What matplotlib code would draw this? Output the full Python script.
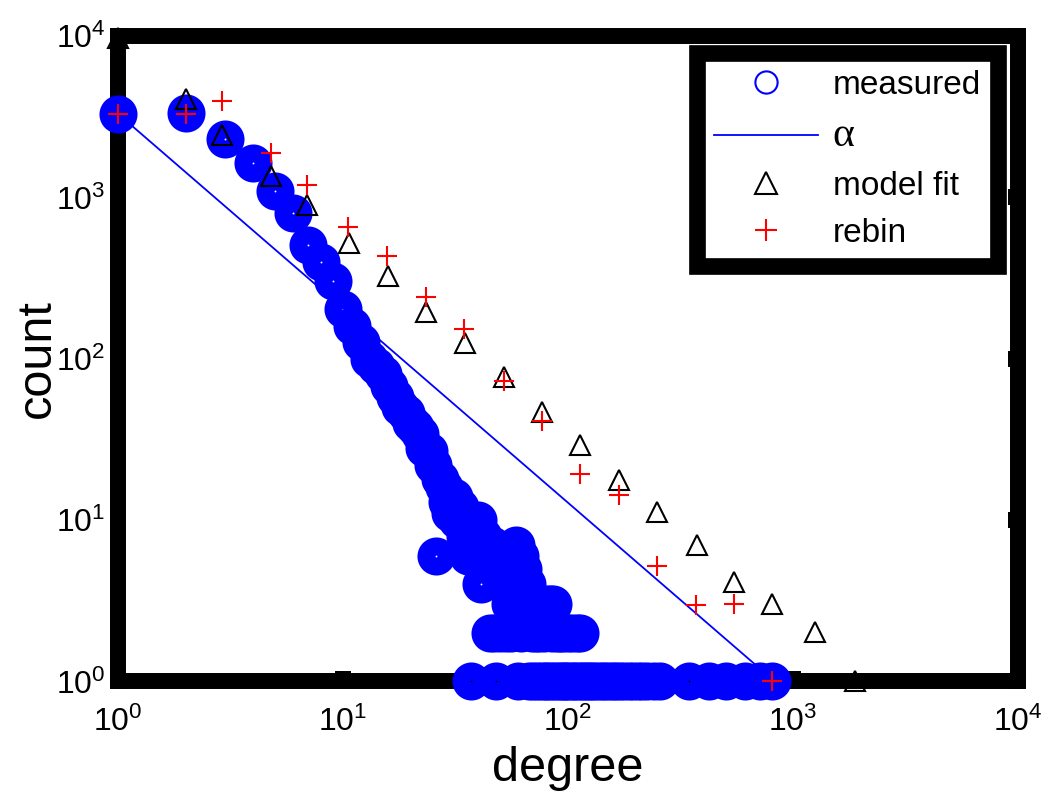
#Importing the Libraries
import numpy as np
import matplotlib
matplotlib.use("Agg")
import matplotlib.pyplot as plt
from matplotlib.lines import Line2D
from matplotlib.ticker import LogLocator, NullLocator

plt.rcParams['font.family'] = ['Liberation Sans', 'DejaVu Sans']
plt.rcParams['mathtext.fontset'] = 'custom'
plt.rcParams['mathtext.rm'] = 'Liberation Sans'
plt.rcParams['mathtext.it'] = 'Liberation Sans:italic'
plt.rcParams['mathtext.bf'] = 'Liberation Sans:bold'

#Measured degree distribution (degree, count)
degree = [1, 2, 3, 4, 5, 6, 7, 8, 9, 10, 11, 12, 13, 14, 15, 16, 17, 18, 19, 20,
          21, 22, 23, 24, 25, 26, 27, 28, 29, 30, 31, 32, 33, 34, 35, 36, 37, 38, 39, 40,
          41, 42, 43, 44, 45, 46, 47, 48, 49, 50, 51, 52, 53, 54, 55, 56, 57, 58, 59, 60,
          61, 62, 63, 64, 65, 66, 67, 68, 69, 70, 71, 72, 73, 74, 75, 76, 78, 79, 80, 81,
          83, 84, 85, 86, 87, 89, 90, 92, 93, 95, 96, 98, 100, 101, 104, 105, 108, 110, 112, 113,
          115, 119, 123, 127, 131, 136, 141, 146, 152, 158, 164, 171, 178, 186, 195, 204, 214, 225, 240, 257,
          345, 424, 506, 609, 713, 810]
count = [3300, 3350, 2290, 1625, 1090, 805, 505, 400, 305, 204, 160, 127, 100, 90, 80, 68, 58, 50, 46, 40,
         38, 34, 28, 27, 22, 6, 18, 16, 13, 11, 14, 10, 12, 10, 8, 6, 1, 7, 9, 10,
         4, 8, 7, 6, 2, 7, 2, 1, 5, 2, 6, 4, 2, 4, 3, 2, 5, 3, 7, 1,
         6, 2, 5, 3, 4, 4, 1, 3, 2, 1, 3, 2, 1, 2, 3, 1, 2, 1, 3, 1,
         3, 1, 2, 3, 1, 2, 1, 2, 1, 2, 1, 1, 2, 1, 2, 1, 1, 2, 1, 2,
         1, 1, 1, 1, 1, 1, 1, 1, 1, 1, 1, 1, 1, 1, 1, 1, 1, 1, 1, 1,
         1, 1, 1, 1, 1, 1]

#Power law line (alpha)
alpha_x = [1, 830]
alpha_y = [3300, 1]

#Model fit
fit_x = [1, 2, 2.9, 4.8, 6.9, 10.6, 15.8, 23.3, 34.9, 51.9, 76.6, 113, 168, 249, 373, 548, 810, 1250, 1890]
fit_y = [9750, 4065, 2427, 1350, 903, 525, 326, 195, 125, 77, 47, 29, 17.6, 11.3, 7.0, 4.13, 3.01, 2.02, 1.0]

#Rebinned counts
rebin_x = [1, 2, 2.9, 4.8, 6.9, 10.5, 15.7, 23.3, 34.4, 51.7, 76.7, 113, 168, 249, 372, 548, 810]
rebin_y = [3300, 3300, 3950, 1876, 1186, 659, 435, 240, 153, 72.6, 40.9, 19.4, 14.4, 5.2, 2.97, 3.0, 1.0]

fig = plt.figure(figsize=(10.57, 7.95), dpi=100)
ax = fig.add_axes([0.1116, 0.1428, 0.8515, 0.8119])

#measured: fat ring markers (tiny hole in the middle)
ax.plot(degree, count, linestyle='none', marker='o', mfc='none', mec='blue',
        ms=14.4, mew=13, clip_on=False, zorder=3)
ax.plot(alpha_x, alpha_y, color='blue', lw=1.3, zorder=2)
ax.plot(fit_x, fit_y, linestyle='none', marker='^', mfc='none', mec='black',
        ms=14, mew=1.5, clip_on=False, zorder=4)
ax.plot(rebin_x, rebin_y, linestyle='none', marker='+', color='red',
        ms=15, mew=1.5, clip_on=False, zorder=5)

ax.set_xscale('log')
ax.set_yscale('log')
ax.set_xlim(1, 1e4)
ax.set_ylim(1, 1e4)
ax.xaxis.set_major_locator(LogLocator(base=10, numticks=10))
ax.yaxis.set_major_locator(LogLocator(base=10, numticks=10))
ax.xaxis.set_minor_locator(NullLocator())
ax.yaxis.set_minor_locator(NullLocator())

for s in ax.spines.values():
    s.set_linewidth(11.5)
ax.tick_params(which='major', direction='in', length=7.5, width=11.5,
               top=False, right=True, labelsize=23)
ax.tick_params(axis='y', which='major', left=False)
ax.tick_params(axis='x', pad=18)
ax.tick_params(axis='y', pad=9)

ax.set_xlabel("degree", fontsize=35, labelpad=6)
ax.set_ylabel("count", fontsize=35, labelpad=-3)

#Legend
handles = [
    Line2D([], [], linestyle='none', marker='o', mfc='none', mec='blue', ms=16, mew=1.5),
    Line2D([], [], color='blue', lw=1.3),
    Line2D([], [], linestyle='none', marker='^', mfc='none', mec='black', ms=16, mew=1.5),
    Line2D([], [], linestyle='none', marker='+', color='red', ms=16, mew=1.5),
]
labels = ["measured", "\u03b1", "model fit", "rebin"]
leg = ax.legend(handles, labels, loc='upper right', bbox_to_anchor=(0.978, 0.974),
                borderaxespad=0, fontsize=24, handlelength=3.1, handletextpad=0.45,
                borderpad=0.52, labelspacing=0.47, fancybox=False, framealpha=1)
leg.get_frame().set_linewidth(12)
leg.get_frame().set_edgecolor('black')
leg.get_texts()[1].set_fontfamily(['Liberation Serif', 'DejaVu Serif'])
leg.get_texts()[1].set_fontsize(30)
leg.set_zorder(10)

plt.savefig("out.png", dpi=100)
